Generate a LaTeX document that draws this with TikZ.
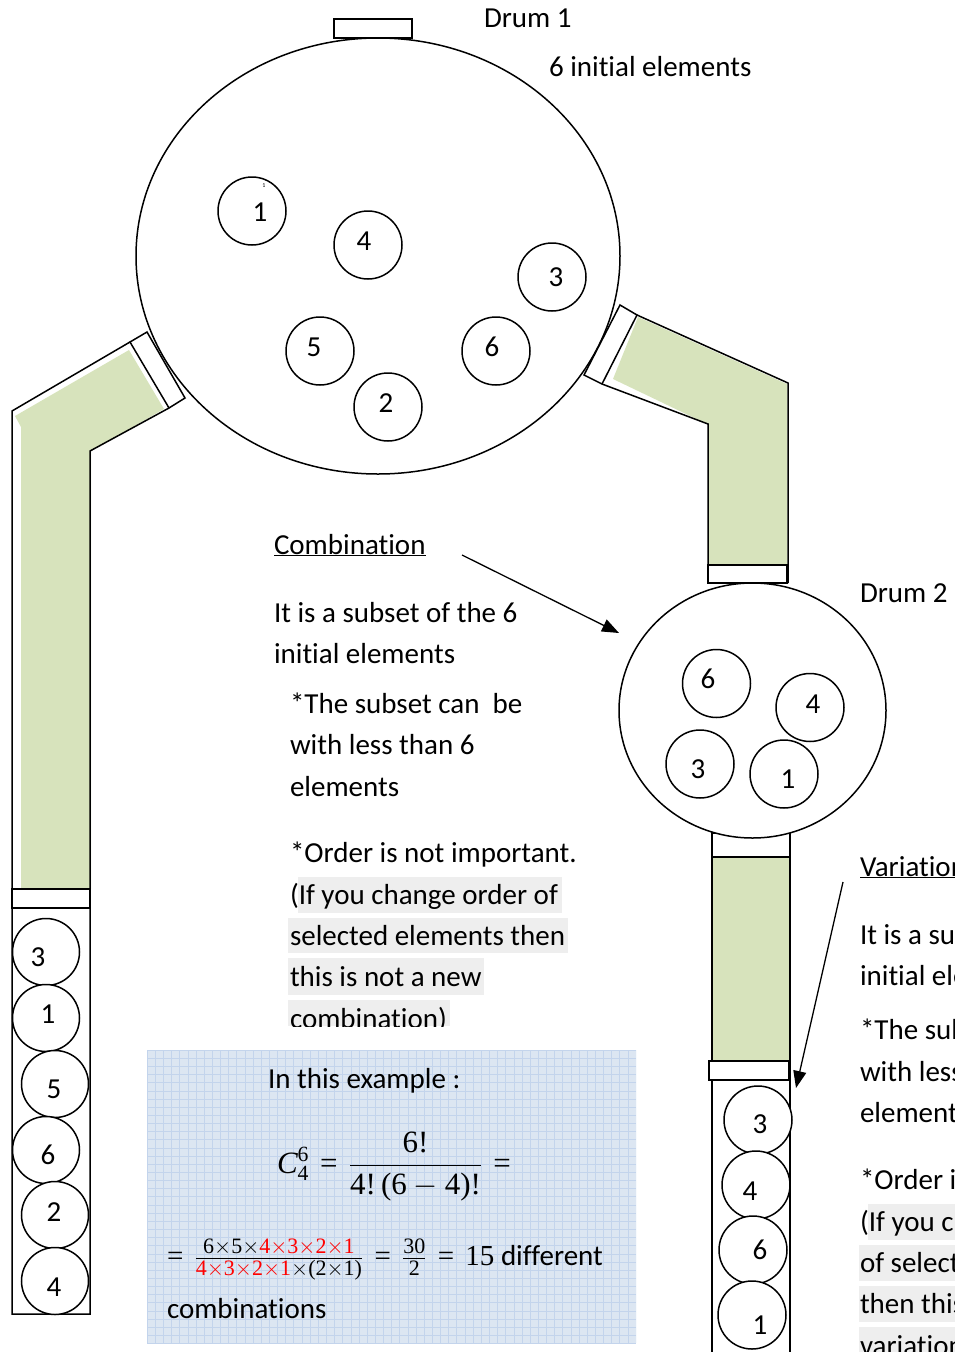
\RequirePackage{fix-cm}
\documentclass[tikz,border=0pt]{standalone}
\usepackage[no-math]{fontspec}
\setmainfont{Carlito}[Ligatures={NoCommon}]
\newfontfamily\lserif{Liberation Serif}[NFSSFamily=libser]
\DeclareSymbolFont{lsnum}{TU}{libser}{m}{n}
\DeclareSymbolFont{lsit}{TU}{libser}{m}{it}
\DeclareMathSymbol{0}{\mathalpha}{lsnum}{`0}
\DeclareMathSymbol{1}{\mathalpha}{lsnum}{`1}
\DeclareMathSymbol{2}{\mathalpha}{lsnum}{`2}
\DeclareMathSymbol{3}{\mathalpha}{lsnum}{`3}
\DeclareMathSymbol{4}{\mathalpha}{lsnum}{`4}
\DeclareMathSymbol{5}{\mathalpha}{lsnum}{`5}
\DeclareMathSymbol{6}{\mathalpha}{lsnum}{`6}
\DeclareMathSymbol{7}{\mathalpha}{lsnum}{`7}
\DeclareMathSymbol{8}{\mathalpha}{lsnum}{`8}
\DeclareMathSymbol{9}{\mathalpha}{lsnum}{`9}
\DeclareMathSymbol{!}{\mathclose}{lsnum}{`!}
\DeclareMathSymbol{(}{\mathopen}{lsnum}{`(}
\DeclareMathSymbol{)}{\mathclose}{lsnum}{`)}
\DeclareMathSymbol{=}{\mathrel}{lsnum}{`=}
\DeclareMathSymbol{C}{\mathalpha}{lsit}{`C}
\DeclareMathSizes{29}{29}{22}{16}
\usetikzlibrary{arrows.meta,shapes.geometric}
\definecolor{pipegreen}{HTML}{D7E3BC}
\definecolor{hlgray}{HTML}{EEEEEE}
\definecolor{gridbg}{HTML}{DCE6F2}
\definecolor{gridln}{HTML}{C3D4EC}
\begin{document}
\begin{tikzpicture}[x=1pt,y=-1pt,line width=1.5pt,
  every node/.style={inner sep=0pt,outer sep=0pt,font=\fontsize{29}{41}\selectfont},
  txt/.style={anchor=base west},
  ball/.style={circle,draw,fill=white,minimum size=68pt,line width=1.5pt},
  num/.style={anchor=center},
  capbox/.style={draw,fill=white,line width=1.5pt},
  pipefill/.style={fill=pipegreen,draw=none},
  hlbox/.style={fill=hlgray,draw=none},
  arr/.style={line width=1.3pt,-{Triangle[length=17pt,width=13pt]}},
  drum/.style={ellipse,draw,fill=white,line width=1.5pt}]
\useasboundingbox (0,0) rectangle (955,1352);
\begin{scope}
\clip (0,0) rectangle (955,1352);

% formula box with grid
\fill[gridbg] (147,1050) rectangle (636,1343);
\begin{scope}
\clip (147,1050) rectangle (636,1343);
\foreach \i in {0,...,60} \draw[gridln,line width=0.5pt] ({147+\i*8.15},1050) -- ({147+\i*8.15},1343);
\foreach \j in {0,...,36} \draw[gridln,line width=0.5pt] (147,{1050+\j*8.15}) -- (636,{1050+\j*8.15});
\end{scope}

% highlights
\fill[hlbox] (298,877) rectangle (562,913);
\fill[hlbox] (288,918) rectangle (568,953);
\fill[hlbox] (288,958) rectangle (484,995);
\fill[hlbox] (288,1000) rectangle (450,1026);
\fill[hlbox] (868,1204) rectangle (955,1240);
\fill[hlbox] (859,1245) rectangle (955,1281);
\fill[hlbox] (859,1286) rectangle (955,1322);
\fill[hlbox] (859,1327) rectangle (955,1352);

% connector corner coordinates
\coordinate (lc1) at (130,342);
\coordinate (lc2) at (147,332);
\coordinate (lc3) at (185,398);
\coordinate (lc4) at (169,408);
\coordinate (rc1) at (637,315);
\coordinate (rc2) at (620,305);
\coordinate (rc3) at (584,375);
\coordinate (rc4) at (602,384);

% green fills
\fill[pipefill] (21,889) -- (21,427) -- (15,416) -- (129,350) -- (164,409) -- (91,451) -- (91,889) -- cycle;
\fill[pipefill] (638,317) -- (787,384) -- (787,565) -- (709,565) -- (709,425) -- (613,379) -- cycle;
\fill[pipefill] (713,857) rectangle (789,1061);

% pipe walls
\draw (lc1) -- (12,411) -- (12,1314) -- (90,1314) -- (90,451) -- (lc4);
\draw (rc1) -- (788,383) -- (788,583);
\draw (rc4) -- (708,424) -- (708,583);
\draw (712,833) -- (712,1360);
\draw (790,833) -- (790,1360);

% caps
\draw[capbox] (12,889) rectangle (90,908);
\draw[capbox] (708,565) rectangle (787,583);
\draw[capbox] (712,833) rectangle (790,857);
\draw[capbox] (709,1061) rectangle (789,1080);
\draw[capbox] (334,19) rectangle (412,38);

% drums
\node[drum,minimum width=484pt,minimum height=436pt] (drum1) at (378,256) {};
\node[drum,minimum width=267pt,minimum height=255pt] (drum2) at (752.5,710.5) {};
\draw[capbox] (lc1) -- (lc2) -- (lc3) -- (lc4) -- cycle;
\draw[capbox] (rc1) -- (rc2) -- (rc3) -- (rc4) -- cycle;

% balls in drum 1
\node[ball] (a1) at (252,211) {};
\node[ball] (a4) at (368,245) {};
\node[ball] (a3) at (552,277) {};
\node[ball] (a5) at (320,351) {};
\node[ball] (a6) at (496,351) {};
\node[ball] (a2) at (388,407) {};
\node[num] (na1) at (260,212) {1};
\node[num] (na4) at (364,241) {4};
\node[num] (na3) at (556,277) {3};
\node[num] (na5) at (314,347) {5};
\node[num] (na6) at (492,347) {6};
\node[num] (na2) at (386,403) {2};
\node[font=\fontsize{6}{7}\selectfont] (tiny) at (264,186) {1};

% balls in drum 2
\node[ball] (b6) at (716.5,683.5) {};
\node[ball] (b4) at (810,707.5) {};
\node[ball] (b3) at (700,764) {};
\node[ball] (b1) at (784,774) {};
\node[num] (nb6) at (708,679) {6};
\node[num] (nb4) at (813,704) {4};
\node[num] (nb3) at (698,769) {3};
\node[num] (nb1) at (788,779) {1};

% balls in left tube
\node[ball,minimum size=67pt] (c3) at (46,952) {};
\node[ball,minimum size=67pt] (c1) at (46,1018) {};
\node[ball,minimum size=67pt] (c5) at (55,1084) {};
\node[ball,minimum size=67pt] (c6) at (46,1150) {};
\node[ball,minimum size=67pt] (c2) at (55,1215) {};
\node[ball,minimum size=67pt] (c4) at (55,1281) {};
\node[num] (nc3) at (38,957) {3};
\node[num] (nc1) at (48,1014) {1};
\node[num] (nc5) at (54,1089) {5};
\node[num] (nc6) at (48,1155) {6};
\node[num] (nc2) at (54,1212) {2};
\node[num] (nc4) at (54,1287) {4};

% balls in right tube
\node[ball] (d3) at (758,1120) {};
\node[ball] (d4) at (756,1185) {};
\node[ball] (d6) at (753,1250) {};
\node[ball] (d1) at (752,1315) {};
\node[num] (nd3) at (760,1124) {3};
\node[num] (nd4) at (750,1191) {4};
\node[num] (nd6) at (760,1250) {6};
\node[num] (nd1) at (760,1325) {1};

% headings
\node[txt] (h1) at (484,27) {Drum 1};
\node[txt] (h2) at (549,76) {6 initial elements};
\node[txt] (h3) at (860,602) {Drum 2};

% combination text
\node[txt] (l0) at (274,554) {\underline{Combination}};
\node[txt] (l1) at (274,622) {It is a subset of the 6};
\node[txt] (l2) at (274,663) {initial elements};
\node[txt] (l3) at (290,713) {*The subset can\ \ be};
\node[txt] (l4) at (290,754) {with less than 6};
\node[txt] (l5) at (290,796) {elements};
\node[txt] (l6) at (290,862) {*Order is not important.};
\node[txt] (l7) at (290,904) {(If you change order of};
\node[txt] (l8) at (290,945) {selected elements then};
\node[txt] (l9) at (290,986) {this is not a new};
\begin{scope}
\clip (280,995) rectangle (600,1026);
\node[txt] (l10) at (290,1028) {combination)};
\end{scope}

% variation text
\node[txt] (r0) at (860,876) {\underline{Variation}};
\node[txt] (r1) at (860,944) {It is a subset of the 6};
\node[txt] (r2) at (860,985) {initial elements};
\node[txt] (r3) at (860,1039) {*The subset can be};
\node[txt] (r4) at (860,1081) {with less than 6};
\node[txt] (r5) at (860,1122) {elements};
\node[txt] (r6) at (860,1189) {*Order is important.};
\node[txt] (r7) at (860,1231) {(If you change order};
\node[txt] (r8) at (860,1272) {of selected elements};
\node[txt] (r9) at (860,1313) {then this is a new};
\node[txt] (r10) at (860,1355) {variation)};

% arrows
\coordinate (ca) at (462,555);
\coordinate (cb) at (619,633);
\draw[arr] (ca) -- (cb);
\coordinate (va) at (843,882);
\coordinate (vb) at (796,1088);
\draw[arr] (va) -- (vb);

% formula box text
\node[txt] (e0) at (268,1088) {In this example :};
\node[txt,font=\fontsize{31}{41}\selectfont] (e1) at (277,1173) {\thickmuskip=6.5mu $C_4^6=\displaystyle\frac{6!}{4!\,(6-4)!}=$};
\node[txt] (e2) at (167,1265) {\thickmuskip=7mu $=\frac{6\times5\times\textcolor{red}{4\times3\times2\times1}}{\textcolor{red}{4\times3\times2\times1}\times(2\times1)}=\frac{30}{2}=15$ different};
\node[txt] (e3) at (167,1318) {combinations};
\end{scope}
\end{tikzpicture}
\end{document}
